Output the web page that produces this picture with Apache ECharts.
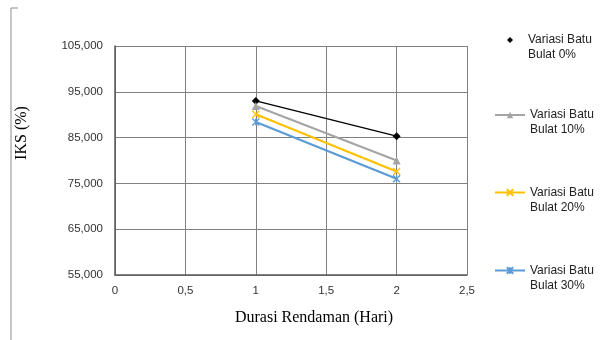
<!DOCTYPE html>
<html>
<head>
	<meta charset="utf-8">
	<title>IKS vs durasi rendaman</title>
	<script src="https://cdn.jsdelivr.net/npm/echarts@6/dist/echarts.min.js"></script>
	<style>
		html, body { margin: 0; padding: 0; background: #fff; }
		#main { width: 600px; height: 340px; }
	</style>
</head>
<body>
<div id="main"></div>
<script>
	// data
	var days = [1, 2];
	var seriesNames = ['Variasi Batu Bulat 0%', 'Variasi Batu Bulat 10%', 'Variasi Batu Bulat 20%', 'Variasi Batu Bulat 30%'];
	var iks0 = [93000, 85300];
	var iks10 = [91900, 80000];
	var iks20 = [90100, 77600];
	var iks30 = [88400, 76000];
	var yTicks = [55000, 65000, 75000, 85000, 95000, 105000];

	var colors = ['#000000', '#a5a5a5', '#ffc000', '#5b9bd5'];
	var crossPath = 'path://M0,0L10,10M10,0L0,10';
	var starPath = 'path://M0,0L10,10M10,0L0,10M5,0L5,10';

	function pairs(vals) {
		return days.map(function (d, i) { return [d, vals[i]]; });
	}

	var chart = echarts.init(document.getElementById('main'));

	var labelFont = { fontFamily: 'Liberation Sans', fontSize: 11.5, color: '#333' };
	var legendText = { fontFamily: 'Liberation Sans', fontSize: 12, color: '#222', lineHeight: 15, rich: { gap: { width: 10 } } };

	// one legend per series so each can sit where Excel put it
	function legendAt(idx, top, opts) {
		return Object.assign({
			orient: 'vertical',
			left: 494,
			top: top,
			padding: 0,
			itemWidth: 30,
			itemHeight: 8,
			selectedMode: false,
			data: [seriesNames[idx]],
			// leading blank line keeps the icon level with the first line
			formatter: function (name) { return '\n' + name.replace('Batu ', 'Batu\n'); },
			textStyle: legendText
		}, opts || {});
	}

	var option = {
		animation: false,
		grid: { left: 115, right: 133, top: 46, bottom: 65 },
		xAxis: {
			type: 'value', min: 0, max: 2.5, interval: 0.5,
			axisLine: { lineStyle: { color: '#595959', width: 1.5 } },
			axisTick: { show: false },
			axisLabel: Object.assign({ margin: 10, formatter: function (v) { return String(v).replace('.', ','); } }, labelFont),
			splitLine: { show: true, lineStyle: { color: '#808080', width: 1 } }
		},
		yAxis: {
			type: 'value', min: 55000, max: 105000, interval: 10000,
			axisLine: { show: true, lineStyle: { color: '#595959', width: 1.5 } },
			axisTick: { show: false, customValues: yTicks },
			axisLabel: Object.assign({ margin: 12, customValues: yTicks, formatter: function (v) { return v.toLocaleString('en-US'); } }, labelFont),
			splitLine: { show: true, lineStyle: { color: '#808080', width: 1 } }
		},
		legend: [
			legendAt(0, 17.5, {
				left: 507, itemWidth: 6, itemHeight: 6,
				data: [{ name: seriesNames[0], icon: 'diamond' }],
				formatter: function (name) { return '\n{gap|}' + name.replace('Batu ', 'Batu\n{gap|}'); }
			}),
			legendAt(1, 92.5),
			legendAt(2, 170),
			legendAt(3, 248)
		],
		graphic: [
			{ type: 'polyline', shape: { points: [[18, 8], [11, 8], [11, 340]] }, style: { stroke: '#8c8c8c', lineWidth: 1, fill: null } },
			{ type: 'text', x: 22, y: 133, rotation: Math.PI / 2, style: { text: 'IKS (%)', font: '16px "Liberation Serif"', fill: '#000', align: 'center', verticalAlign: 'middle' } },
			{ type: 'text', x: 314, y: 318, style: { text: 'Durasi Rendaman (Hari)', font: '16px "Liberation Serif"', fill: '#000', align: 'center', verticalAlign: 'middle' } }
		],
		series: [
			{ name: seriesNames[0], type: 'line', data: pairs(iks0), symbol: 'diamond', symbolSize: 8,
				lineStyle: { color: colors[0], width: 1.3 }, itemStyle: { color: colors[0] } },
			{ name: seriesNames[1], type: 'line', data: pairs(iks10), symbol: 'triangle', symbolSize: 8,
				lineStyle: { color: colors[1], width: 2.2 }, itemStyle: { color: colors[1] } },
			{ name: seriesNames[2], type: 'line', data: pairs(iks20), symbol: crossPath, symbolSize: 7,
				lineStyle: { color: colors[2], width: 2.2 }, itemStyle: { color: colors[2], borderColor: colors[2], borderWidth: 1.3 } },
			{ name: seriesNames[3], type: 'line', data: pairs(iks30), symbol: starPath, symbolSize: 7,
				lineStyle: { color: colors[3], width: 2.2 }, itemStyle: { color: colors[3], borderColor: colors[3], borderWidth: 1.3 } }
		]
	};

	chart.setOption(option);
</script>
</body>
</html>
